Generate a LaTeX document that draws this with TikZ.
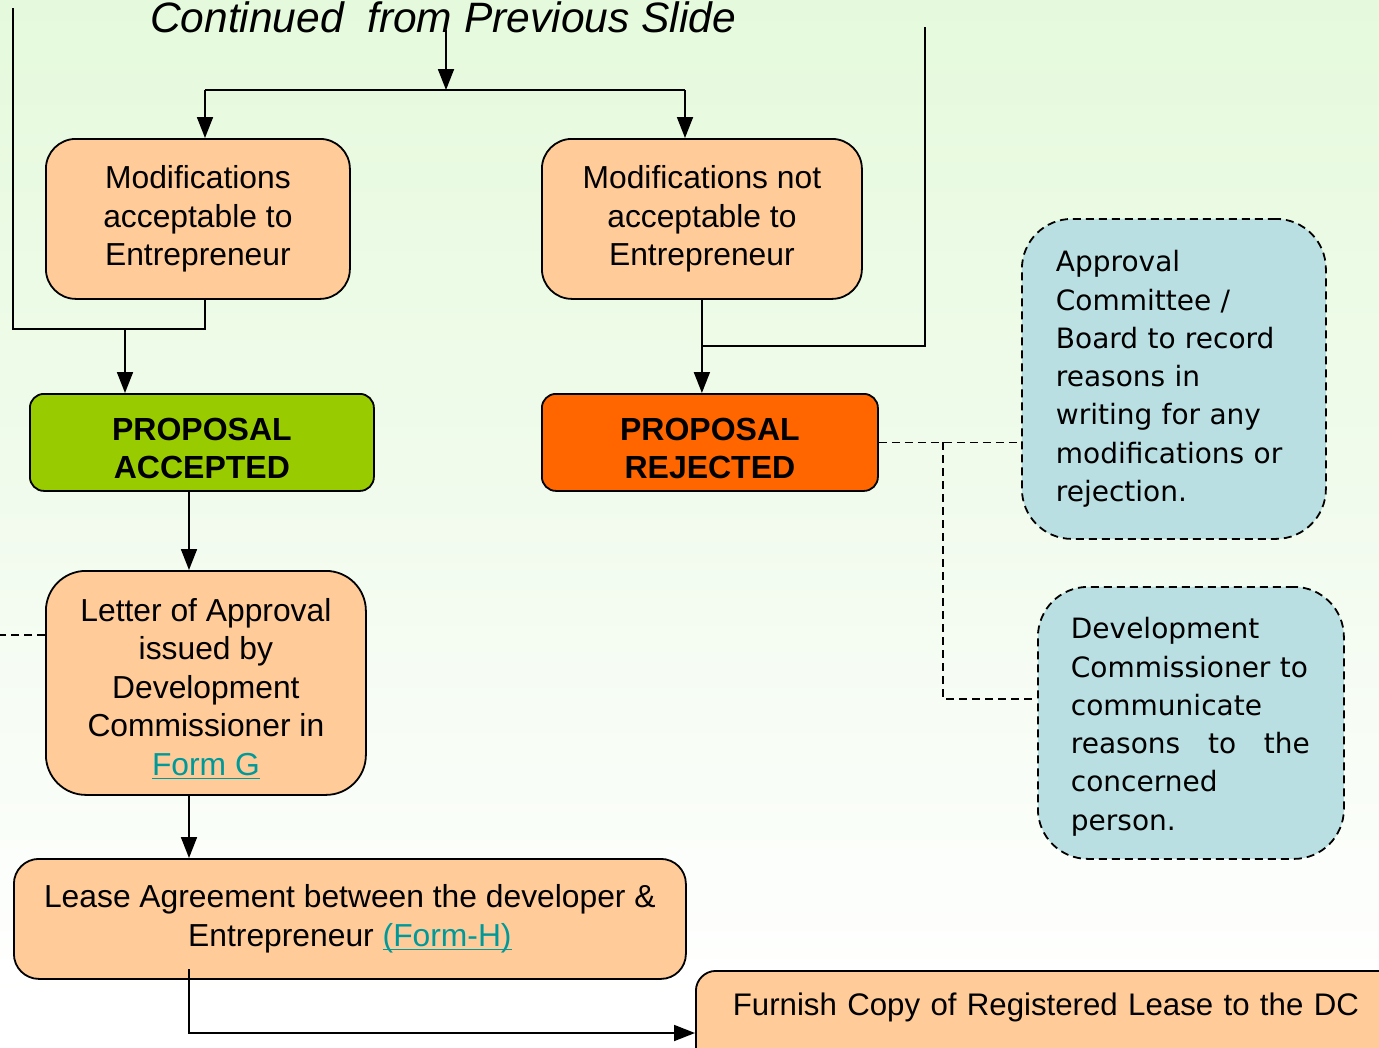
\documentclass[tikz,border=0pt]{standalone}
\usepackage{fontspec}
\setmainfont{Liberation Sans}
\newfontfamily\dejavu{DejaVu Sans}
\usetikzlibrary{arrows.meta,calc}
\definecolor{peach}{HTML}{FFCC99}
\definecolor{accgreen}{HTML}{99CC00}
\definecolor{rejorange}{HTML}{FF6600}
\definecolor{noteblue}{HTML}{B9DFE2}
\definecolor{linkteal}{HTML}{009999}
\definecolor{bgtop}{RGB}{229,250,220}
\tikzset{
  x=1pt, y=-1pt,
  boxbase/.style={draw=black, line width=1.8pt, anchor=north west, inner sep=0pt, align=center},
  peachbox/.style={boxbase, fill=peach, font=\fontsize{31.8}{38.5}\selectfont},
  decision/.style={boxbase, rounded corners=14pt, font=\fontsize{32}{38.5}\selectfont\bfseries},
  notebox/.style={boxbase, fill=noteblue, dash pattern=on 8pt off 5pt, rounded corners=50pt, align=left, font=\dejavu\fontsize{28}{38.3}\selectfont},
  conn/.style={draw=black, line width=1.8pt},
  arr/.style={conn, -{Triangle[length=21pt,width=16pt]}},
  dashconn/.style={draw=black, line width=1.6pt, dash pattern=on 8pt off 5pt},
}
\newcommand{\lnk}[1]{\textcolor{linkteal}{\setbox0\hbox{#1}\rlap{\rule[-4pt]{\wd0}{1.6pt}}\box0}}
\newcommand{\topstrut}[1]{\rule{0pt}{#1}}
\begin{document}
\begin{tikzpicture}
\useasboundingbox (0,0) rectangle (1379,1047);
\clip (0,0) rectangle (1379,1047);
\shade[top color=bgtop, bottom color=white, middle color={rgb,255:red,241;green,251;blue,237}] (0,0) rectangle (1379,1000);
\fill[white] (0,1000) rectangle (1379,1047);

% title
\node[anchor=base, font=\fontsize{42.5}{46}\selectfont\itshape] (title) at (443,32) {Continued\ \ from Previous Slide};

% boxes
\node[peachbox, rounded corners=30pt, minimum width=304pt, minimum height=160pt] (m1) at (45,138)
  {Modifications\\acceptable to\\Entrepreneur};
\node[peachbox, rounded corners=30pt, minimum width=320pt, minimum height=160pt] (m2) at (541,138)
  {Modifications not\\acceptable to\\Entrepreneur};
\node[decision, fill=accgreen, minimum width=344pt, minimum height=97pt] (acc) at (29,393)
  {\topstrut{34pt}PROPOSAL\\ACCEPTED};
\node[decision, fill=rejorange, minimum width=336pt, minimum height=97pt] (rej) at (541,393)
  {\topstrut{34pt}PROPOSAL\\REJECTED};
\node[peachbox, rounded corners=40pt, minimum width=320pt, minimum height=224pt] (let) at (45,570)
  {\topstrut{35pt}Letter of Approval\\issued by\\Development\\Commissioner in\\\lnk{Form G}};
\node[peachbox, rounded corners=25pt, minimum width=672pt, minimum height=120pt] (lease) at (13,858)
  {Lease Agreement between the developer \&\\Entrepreneur \lnk{(Form-H)}};
\node[peachbox, rounded corners=20pt, minimum width=720pt, align=left, inner xsep=37pt, inner ysep=0pt,
      text height=45pt, text depth=60pt, text width=646pt, font=\fontsize{31.2}{38.5}\selectfont] (furn) at (695,970)
  {Furnish Copy of Registered Lease to the DC};
\node[notebox, minimum width=304pt, minimum height=320pt, text width=236pt, inner xsep=34pt] (appr) at (1021,218)
  {Approval\\Committee /\\Board to record\\reasons in\\writing for any\\modifications or\\rejection.};
\node[notebox, minimum width=304pt, minimum height=272pt, text width=240pt, inner xsep=33pt] (dev) at (1037,586)
  {\topstrut{29pt}Development\\Commissioner to\\communicate\\\leavevmode\hbox to 239pt{reasons\hfill to\hfill the}\\concerned\\person.};

% coordinates
\coordinate (top) at (446,30);
\coordinate (tj) at (446,90);
\coordinate (hl) at (205,90);
\coordinate (hr) at (685,90);
\coordinate (lj) at (125,329);
\coordinate (lcorner) at (205,329);
\coordinate (lup) at (13,8);
\coordinate (rup) at (925,27);
\coordinate (rj) at (701,346);
\coordinate (ax) at (189,0);
\coordinate (leasestart) at (189,969);
\coordinate (furnin) at ([yshift=-63pt]furn.north west);
\coordinate (jn) at ($(rej.east)+(64,0)$);
\coordinate (devin) at ([yshift=24pt]dev.west);
\coordinate (letin) at ([yshift=48pt]let.west);
\coordinate (leftedge) at (0,0);

% connectors
\draw[arr] (top) -- (tj);
\draw[conn] (hl) -- (hr);
\draw[arr] (hl) -- (hl |- m1.north);
\draw[arr] (hr) -- (hr |- m2.north);
\draw[conn] (m1.south -| lcorner) -- (lcorner) -- (lcorner -| lup) -- (lup);
\draw[arr] (lj) -- (lj |- acc.north);
\draw[conn] (rup) -- (rup |- rj) -- (rj);
\draw[arr] (m2.south) -- (m2.south |- rej.north);
\draw[arr] (acc.south -| ax) -- (let.north -| ax);
\draw[arr] (let.south -| ax) -- (lease.north -| ax);
\draw[arr] (leasestart) |- (furnin);
\draw[dashconn] (rej.east) -- (rej.east -| appr.west);
\draw[dashconn] (jn) |- (devin);
\draw[dashconn] (letin) -- (letin -| leftedge);
\end{tikzpicture}
\end{document}
